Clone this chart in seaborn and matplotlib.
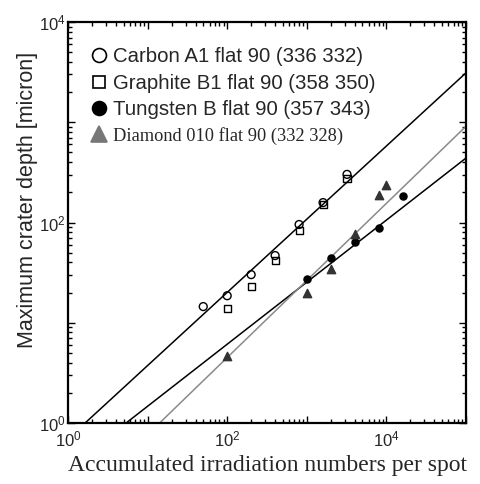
import numpy as np
import pandas as pd
import matplotlib
matplotlib.use("Agg")
import matplotlib.pyplot as plt
import matplotlib.ticker as mticker
import seaborn as sns

# ---- data ----
carbon_x = [50, 100, 200, 400, 800, 1600, 3200]
carbon_y = [14.5, 18.6, 30.2, 46.8, 95.5, 158, 302]
graphite_x = [100, 200, 400, 800, 1600, 3200]
graphite_y = [13.8, 22.9, 41.7, 83, 151, 275]
tungsten_x = [1000, 2000, 4000, 8000, 16000]
tungsten_y = [27.5, 44.7, 64.6, 89, 182]
diamond_x = [100, 1000, 2000, 4000, 8000, 10000]
diamond_y = [4.7, 20, 34, 76, 186, 234]

labels = ["Carbon A1 flat 90 (336 332)",
          "Graphite B1 flat 90 (358 350)",
          "Tungsten B flat 90 (357 343)",
          "Diamond 010 flat 90 (332 328)"]

# power-law fits: log10(y) = slope * log10(x) + intercept
fit_slope = [0.73, 0.619, 0.769]
fit_intercept = [-0.157, -0.452, -0.885]
fit_color = ["black", "black", "#8a8a8a"]

x_ticks = [1, 10, 100, 1000, 10000, 100000]
y_ticks = [1, 10, 100, 1000, 10000]

# ---- style ----
sns.set_style("ticks")
plt.rcParams["font.family"] = ["Liberation Sans", "DejaVu Sans"]
plt.rcParams["mathtext.fontset"] = "custom"
plt.rcParams["mathtext.rm"] = "Liberation Sans"
plt.rcParams["mathtext.it"] = "Liberation Sans:italic"
plt.rcParams["mathtext.bf"] = "Liberation Sans:bold"

fig = plt.figure(figsize=(4.81, 4.84), dpi=100)
ax = fig.add_axes([68 / 481, 61 / 484, 398 / 481, 401 / 484])
ax.set_xscale("log")
ax.set_yscale("log")

# fit lines
xg = np.logspace(0, 5.2, 60)
for s, b, c in zip(fit_slope, fit_intercept, fit_color):
    df_line = pd.DataFrame({"x": xg, "y": 10 ** (s * np.log10(xg) + b)})
    sns.lineplot(data=df_line, x="x", y="y", ax=ax, color=c, lw=1.1,
                 legend=False, zorder=2)

series = [
    (carbon_x, carbon_y, "o", "none", "black", 32),
    (graphite_x, graphite_y, "s", "none", "black", 26),
    (tungsten_x, tungsten_y, "o", "black", "black", 26),
    (diamond_x, diamond_y, "^", "#333333", "#333333", 36),
]
handles = []
for (xs, ys, m, fc, ec, sz), lab in zip(series, labels):
    df = pd.DataFrame({"x": xs, "y": ys})
    sns.scatterplot(data=df, x="x", y="y", ax=ax, marker=m, s=sz,
                    facecolor=fc, edgecolor=ec, linewidth=1.0, zorder=3,
                    legend=False)
    lfc = fc if m != "^" else "#777777"
    lec = ec if m != "^" else "#777777"
    h = plt.Line2D([], [], marker=m, linestyle="none",
                   markersize={"o": 10, "s": 9, "^": 11}[m],
                   markerfacecolor=lfc, markeredgecolor=lec, markeredgewidth=1.2)
    handles.append(h)

ax.set_xlim(1, 1e5)
ax.set_ylim(1, 1e4)

ax.xaxis.set_major_locator(mticker.FixedLocator(x_ticks))
ax.yaxis.set_major_locator(mticker.FixedLocator(y_ticks))
ax.xaxis.set_minor_locator(mticker.LogLocator(base=10, subs=np.arange(2, 10), numticks=20))
ax.yaxis.set_minor_locator(mticker.LogLocator(base=10, subs=np.arange(2, 10), numticks=20))


def fmt(v, pos):
    e = int(round(np.log10(v)))
    return r"$\mathregular{10^{%d}}$" % e if e % 2 == 0 else ""


ax.xaxis.set_major_formatter(mticker.FuncFormatter(fmt))
ax.yaxis.set_major_formatter(mticker.FuncFormatter(fmt))
ax.tick_params(which="both", direction="in", top=True, right=True, labelsize=12,
               width=1.0, color="black")
ax.tick_params(which="major", length=5)
ax.tick_params(which="minor", length=3)
ax.tick_params(axis="x", pad=5)
ax.tick_params(axis="y", pad=1.5)
for sp in ax.spines.values():
    sp.set_linewidth(1.6)
    sp.set_color("black")

ax.set_xlabel("Accumulated irradiation numbers per spot",
              family=["Liberation Serif", "DejaVu Serif"], fontsize=17, labelpad=4)
ax.set_ylabel("Maximum crater depth [micron]", fontsize=15.5)
ax.yaxis.set_label_coords(-0.075, 0.556)

leg = ax.legend(handles, labels, loc="upper left", bbox_to_anchor=(0.035, 0.962),
                frameon=False, fontsize=14.7, handlelength=0.7, handletextpad=0.3,
                borderaxespad=0.3, labelspacing=0.36, borderpad=0.2)
leg.get_texts()[3].set_family(["Liberation Serif", "DejaVu Serif"])
leg.get_texts()[3].set_fontsize(13.2)

fig.savefig("out.png", dpi=100)
